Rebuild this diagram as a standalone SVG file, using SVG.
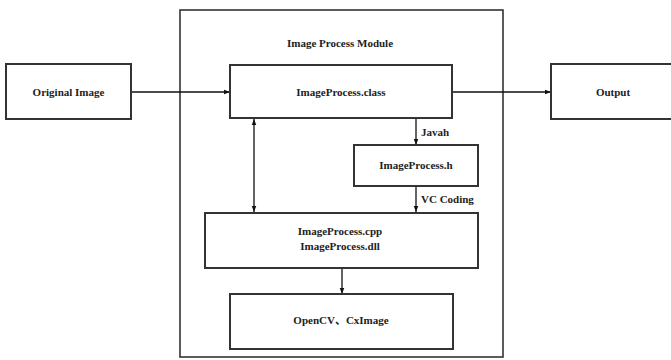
<svg xmlns="http://www.w3.org/2000/svg" width="671" height="360" viewBox="0 0 671 360">
  <style>
    .box { fill: #fff; stroke: #333; stroke-width: 2; }
    .frame { fill: none; stroke: #333; stroke-width: 1.6; }
    .lbl { font-family: "Liberation Serif", "Times New Roman", "Noto Sans CJK SC", serif; font-size: 11px; font-weight: bold; fill: #222; text-anchor: middle; }
    .side { font-family: "Liberation Serif", "Times New Roman", serif; font-size: 11px; font-weight: bold; fill: #222; }
    .conn { stroke: #111; stroke-width: 1.3; fill: none; }
  </style>
  <defs>
    <marker id="arrow" viewBox="0 0 8 8" refX="8" refY="4" markerWidth="6" markerHeight="6" orient="auto-start-reverse" markerUnits="userSpaceOnUse">
      <path d="M0,1 L8,4 L0,7 z" fill="#111"/>
    </marker>
  </defs>

  <rect width="671" height="360" fill="#fff"/>

  <g id="module">
    <rect class="frame" x="180" y="10" width="323" height="347"/>
    <text class="lbl" x="340" y="47">Image Process Module</text>
  </g>

  <g id="connectors">
    <line class="conn" x1="131" y1="92" x2="230" y2="92" marker-end="url(#arrow)"/>
    <line class="conn" x1="452" y1="92" x2="551" y2="92" marker-end="url(#arrow)"/>
    <line class="conn" x1="416" y1="118" x2="416" y2="145" marker-end="url(#arrow)"/>
    <line class="conn" x1="416" y1="186" x2="416" y2="212" marker-end="url(#arrow)"/>
    <line class="conn" x1="254" y1="119" x2="254" y2="212" marker-start="url(#arrow)" marker-end="url(#arrow)"/>
    <line class="conn" x1="342" y1="268" x2="342" y2="294" marker-end="url(#arrow)"/>
    <text class="side" x="421" y="136">Javah</text>
    <text class="side" x="421" y="203">VC Coding</text>
  </g>

  <g id="original">
    <rect class="box" x="6" y="64" width="125" height="55"/>
    <text class="lbl" x="68.5" y="95.5">Original Image</text>
  </g>

  <g id="class">
    <rect class="box" x="230" y="65" width="222" height="53"/>
    <text class="lbl" x="341" y="95.5">ImageProcess.class</text>
  </g>

  <g id="output">
    <rect class="box" x="551" y="64" width="124" height="55"/>
    <text class="lbl" x="613" y="95.5">Output</text>
  </g>

  <g id="header">
    <rect class="box" x="354" y="145" width="124" height="41"/>
    <text class="lbl" x="416" y="169">ImageProcess.h</text>
  </g>

  <g id="native">
    <rect class="box" x="205" y="213" width="273" height="55"/>
    <text class="lbl" x="340" y="235">ImageProcess.cpp</text>
    <text class="lbl" x="340" y="250">ImageProcess.dll</text>
  </g>

  <g id="libs">
    <rect class="box" x="230" y="294" width="223" height="55"/>
    <text class="lbl" x="341" y="324">OpenCV、CxImage</text>
  </g>
</svg>
